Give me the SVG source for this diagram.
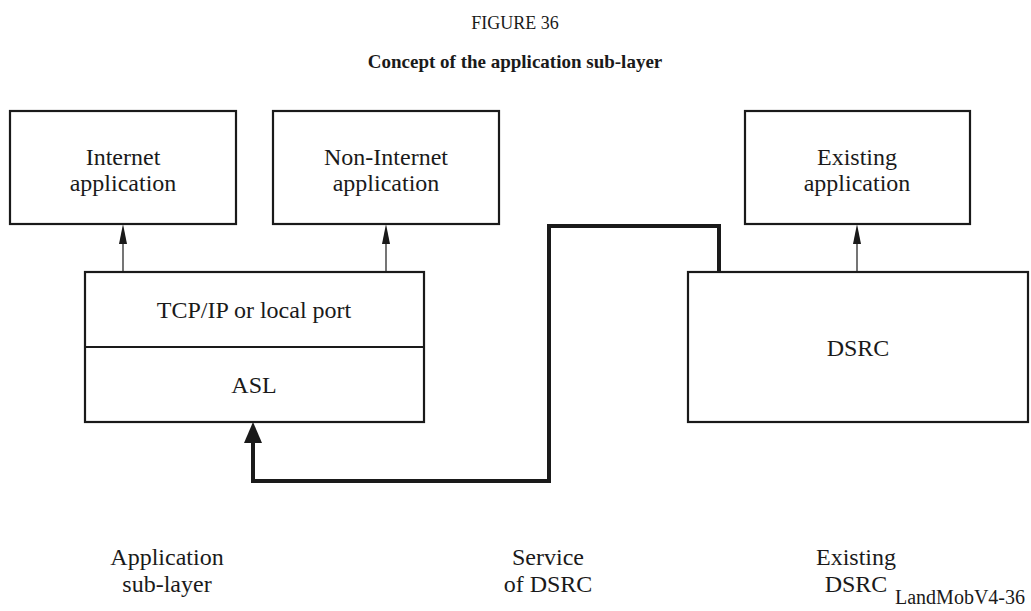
<svg xmlns="http://www.w3.org/2000/svg" width="1031" height="611" viewBox="0 0 1031 611">
<style>
text{font-family:"Liberation Serif","Times New Roman",serif;fill:#1a1a1a;text-anchor:middle}
.t{font-size:24px}
.box{fill:#fff;stroke:#1a1a1a;stroke-width:2.2}
.thin{fill:none;stroke:#1a1a1a;stroke-width:1.2}
.thick{fill:none;stroke:#1a1a1a;stroke-width:4;stroke-linejoin:miter}
.head{fill:#1a1a1a}
</style>
<text x="515" y="29" style="font-size:18px">FIGURE 36</text>
<text x="515" y="68" style="font-size:19px;font-weight:bold">Concept of the application sub-layer</text>
<g id="connectors">
<line class="thin" x1="123" y1="272" x2="123" y2="240"/><path class="head" d="M119,244 L123,224 L127,244 Z"/>
<line class="thin" x1="386" y1="272" x2="386" y2="240"/><path class="head" d="M382,244 L386,224 L390,244 Z"/>
<line class="thin" x1="857" y1="272" x2="857" y2="240"/><path class="head" d="M853,244 L857,224 L861,244 Z"/>
<path class="thick" d="M719,272 V226 H549 V481 H253 V438"/>
<path class="head" d="M244,443 L253,422 L262,443 Z"/>
</g>
<g id="internet-app"><rect class="box" x="10" y="111" width="226" height="113"/><text class="t" x="123" y="165">Internet</text><text class="t" x="123" y="191">application</text></g>
<g id="non-internet-app"><rect class="box" x="273" y="111" width="226" height="113"/><text class="t" x="386" y="165">Non-Internet</text><text class="t" x="386" y="191">application</text></g>
<g id="existing-app"><rect class="box" x="745" y="111" width="225" height="113"/><text class="t" x="857" y="165">Existing</text><text class="t" x="857" y="191">application</text></g>
<g id="asl-stack"><rect class="box" x="85" y="272" width="339" height="150"/><line class="box" x1="85" y1="347" x2="424" y2="347"/><text class="t" x="254" y="318">TCP/IP or local port</text><text class="t" x="254" y="393">ASL</text></g>
<g id="dsrc"><rect class="box" x="688" y="272" width="340" height="150"/><text class="t" x="858" y="356">DSRC</text></g>
<g id="labels">
<text class="t" x="167" y="565">Application</text><text class="t" x="167" y="592">sub-layer</text>
<text class="t" x="548" y="565">Service</text><text class="t" x="548" y="592">of DSRC</text>
<text class="t" x="856" y="565">Existing</text><text class="t" x="856" y="592">DSRC</text>
<text x="1025" y="604" style="font-size:20px;text-anchor:end">LandMobV4-36</text>
</g>
</svg>
